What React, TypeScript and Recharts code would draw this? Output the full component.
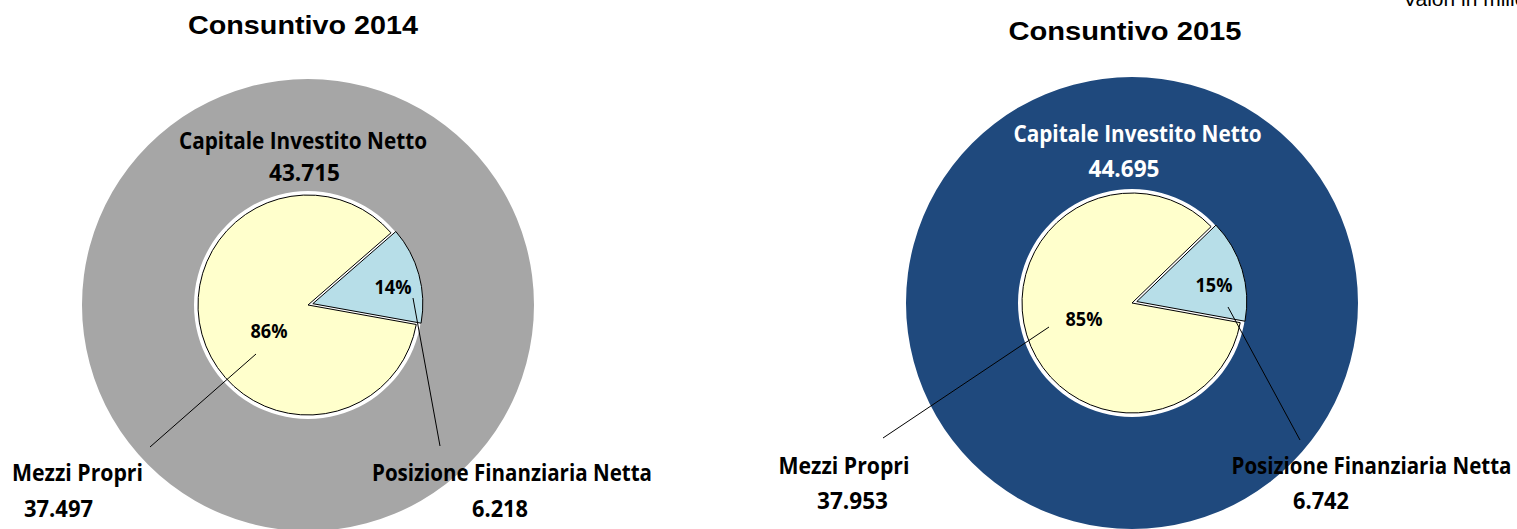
import React from 'react';
import { PieChart, Pie, Cell } from 'recharts';

const titles = ['Consuntivo 2014', 'Consuntivo 2015'];
const capitaleInvestitoNetto = [43715, 44695];
const posizioneFinanziariaNetta = [6218, 6742];
const mezziPropri = [37497, 37953];
const sliceNames = ['Posizione Finanziaria Netta', 'Mezzi Propri'];
const totalName = 'Capitale Investito Netto';
const unitNote = 'Valori in milioni di euro';

const W = 1517;
const H = 529;
const OUTER_R = 226;
const RING_R = 114;
const PIE_R = 110;
const EXPLODE = 5;

const YELLOW = '#FFFFCC';
const LIGHT_BLUE = '#B7DEE8';

// layout of each panel: centre, rotation and label offsets (relative to centre)
const panels = [
  {
    cx: 308, cy: 305, start: 41, ring: '#A6A6A6', totalColor: '#000',
    title: { x: 303, y: 25, w: 230 },
    total: { name: [-5, -164], value: [-3.5, -132] },
    pfn: { pct: [85, -18], line: [105, -7, 132, 141], name: [204, 168], value: [192, 204], vw: 56 },
    mezzi: { pct: [-39, 26], line: [-52, 49, -158, 142], name: [-230.5, 168], value: [-249.5, 204], vw: 69 },
  },
  {
    cx: 1132, cy: 303, start: 44, ring: '#1F497D', totalColor: '#fff',
    title: { x: 1125, y: 31, w: 233 },
    total: { name: [5.5, -169], value: [-8, -134] },
    pfn: { pct: [82, -18], line: [96, 4, 168, 137], name: [239.5, 163], value: [189, 198], vw: 56 },
    mezzi: { pct: [-48, 16], line: [-83, 24, -249, 135], name: [-288, 163], value: [-279.5, 198], vw: 71 },
  },
];

const fmt = (v: number) => String(v).replace(/\B(?=(\d{3})+(?!\d))/g, '.');

const Label = ({ x, y, w, size = 22.5, fill = '#000', children }: any) => (
  <text
    x={x}
    y={y + size * 0.36}
    textAnchor="middle"
    fontFamily="'Open Sans', 'Noto Sans', sans-serif"
    fontWeight="bold"
    fontSize={size}
    fill={fill}
    textLength={w}
    lengthAdjust="spacingAndGlyphs"
  >
    {children}
  </text>
);

const sliceData = (i: number) => [
  { name: sliceNames[0], value: posizioneFinanziariaNetta[i] },
  { name: sliceNames[1], value: mezziPropri[i] },
];

const App: React.FC = () => {
  return (
    <div style={{ position: 'absolute', left: 0, top: 0, width: W, height: H, background: '#fff' }}>
      <PieChart width={W} height={H} margin={{ top: 0, right: 0, bottom: 0, left: 0 }}>
        {panels.map((p, i) => {
          const data = sliceData(i);
          const sum = data[0].value + data[1].value;
          const sweep = (360 * data[0].value) / sum;
          const mid = ((p.start - sweep / 2) * Math.PI) / 180;
          const ex = p.cx + EXPLODE * Math.cos(mid);
          const ey = p.cy - EXPLODE * Math.sin(mid);

          const totalLabel = (props: any) => (
            <g key={`tot-${i}`}>
              <Label x={props.cx + p.total.name[0]} y={props.cy + p.total.name[1]} w={248} fill={p.totalColor}>
                {totalName}
              </Label>
              <Label x={props.cx + p.total.value[0]} y={props.cy + p.total.value[1]} w={71} fill={p.totalColor}>
                {fmt(capitaleInvestitoNetto[i])}
              </Label>
            </g>
          );

          const sliceLabel = (props: any) => {
            const idx = props.index;
            const o = idx === 0 ? p.pfn : p.mezzi;
            const v = data[idx].value;
            const pct = Math.round((v / sum) * 100);
            const cx = p.cx;
            const cy = p.cy;
            return (
              <g key={`sl-${i}-${idx}`}>
                <line
                  x1={cx + o.line[0]} y1={cy + o.line[1]}
                  x2={cx + o.line[2]} y2={cy + o.line[3]}
                  stroke="#000" strokeWidth={1}
                />
                <Label x={cx + o.pct[0]} y={cy + o.pct[1]} w={37} size={20}>{`${pct}%`}</Label>
                <Label x={cx + o.name[0]} y={cy + o.name[1]} w={idx === 0 ? 280 : 131}>{data[idx].name}</Label>
                <Label x={cx + o.value[0]} y={cy + o.value[1]} w={o.vw}>{fmt(v)}</Label>
              </g>
            );
          };

          return [
            <Pie
              key={`outer-${i}`}
              data={[{ name: totalName, value: capitaleInvestitoNetto[i] }]}
              dataKey="value"
              cx={p.cx}
              cy={p.cy}
              outerRadius={OUTER_R}
              innerRadius={0}
              startAngle={90}
              endAngle={-270}
              stroke="none"
              fill={p.ring}
              label={totalLabel}
              labelLine={false}
              isAnimationActive={false}
            />,
            <Pie
              key={`ring-${i}`}
              data={[{ name: 'ring', value: capitaleInvestitoNetto[i] }]}
              dataKey="value"
              cx={p.cx}
              cy={p.cy}
              outerRadius={RING_R}
              innerRadius={0}
              startAngle={90}
              endAngle={-270}
              stroke="none"
              fill="#fff"
              isAnimationActive={false}
            />,
            <Pie
              key={`pfn-${i}`}
              data={data}
              dataKey="value"
              cx={ex}
              cy={ey}
              outerRadius={PIE_R}
              innerRadius={0}
              startAngle={p.start}
              endAngle={p.start - 360}
              isAnimationActive={false}
            >
              <Cell fill={LIGHT_BLUE} stroke="#000" strokeWidth={1} />
              <Cell fill="none" stroke="none" />
            </Pie>,
            <Pie
              key={`mezzi-${i}`}
              data={data}
              dataKey="value"
              cx={p.cx}
              cy={p.cy}
              outerRadius={PIE_R}
              innerRadius={0}
              startAngle={p.start}
              endAngle={p.start - 360}
              label={sliceLabel}
              labelLine={false}
              isAnimationActive={false}
            >
              <Cell fill="none" stroke="none" />
              <Cell fill={YELLOW} stroke="#000" strokeWidth={1} />
            </Pie>,
          ];
        })}
      </PieChart>
      <svg width={W} height={H} style={{ position: 'absolute', left: 0, top: 0, pointerEvents: 'none' }}>
        {panels.map((p, i) => (
          <text
            key={`title-${i}`}
            x={p.title.x}
            y={p.title.y + 25 * 0.36}
            textAnchor="middle"
            fontFamily="'Liberation Sans', Arial, sans-serif"
            fontWeight="bold"
            fontSize={25}
            fill="#000"
            textLength={p.title.w}
            lengthAdjust="spacingAndGlyphs"
          >
            {titles[i]}
          </text>
        ))}
        <text x={1403} y={6} fontFamily="'Liberation Sans', Arial, sans-serif" fontSize={21} fill="#000">
          {unitNote}
        </text>
      </svg>
    </div>
  );
};

export default App;
